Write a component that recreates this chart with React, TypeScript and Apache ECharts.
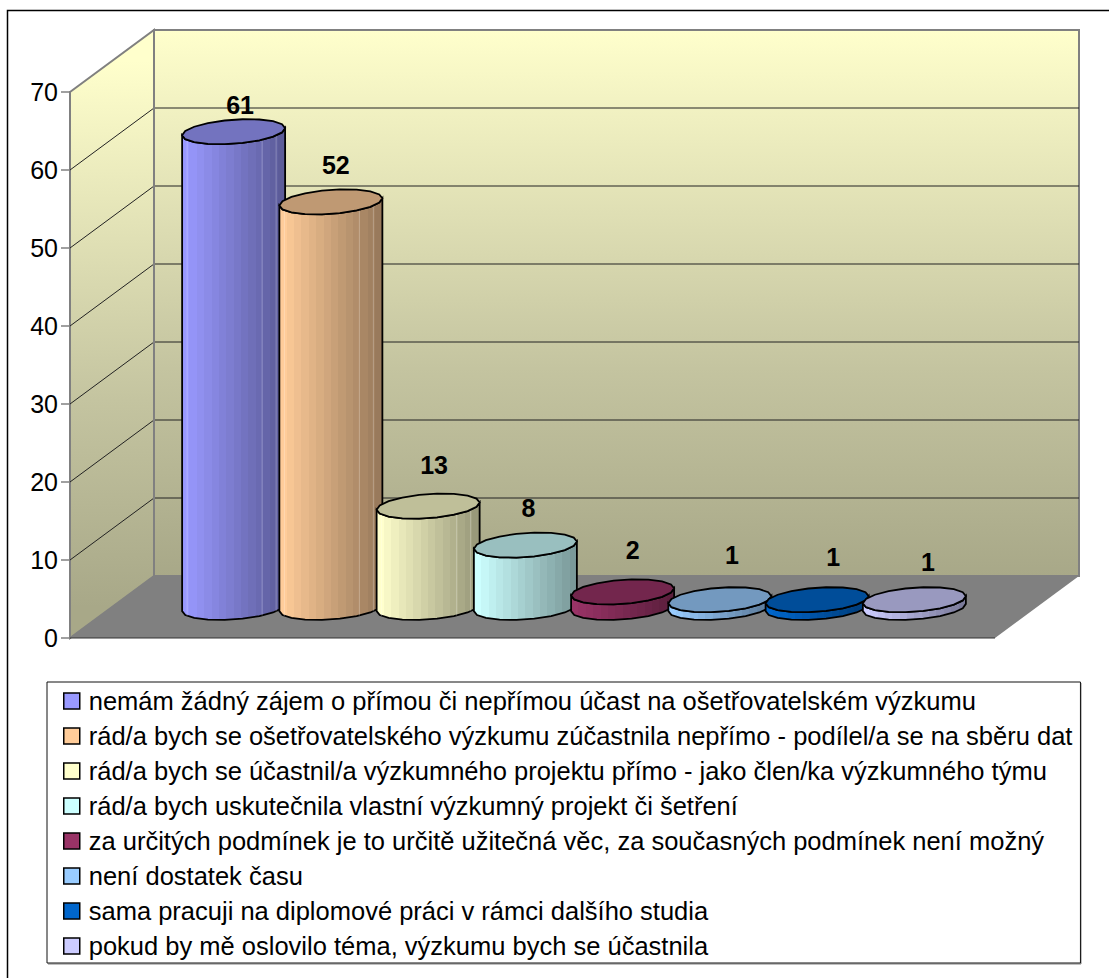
import React, { useEffect, useRef } from "react";
import * as echarts from "echarts";

const categories = [
  "nemám žádný zájem o přímou či nepřímou účast na ošetřovatelském výzkumu",
  "rád/a bych se ošetřovatelského výzkumu zúčastnila nepřímo - podílel/a se na sběru dat",
  "rád/a bych se účastnil/a výzkumného projektu přímo - jako člen/ka výzkumného týmu",
  "rád/a bych uskutečnila vlastní výzkumný projekt či šetření",
  "za určitých podmínek je to určitě užitečná věc, za současných podmínek není možný",
  "není dostatek času",
  "sama pracuji na diplomové práci v rámci dalšího studia",
  "pokud by mě oslovilo téma, výzkumu bych se účastnila",
];
const values = [61, 52, 13, 8, 2, 1, 1, 1];
const colors = ["#9999FF", "#FFCC99", "#FFFFCC", "#CCFFFF", "#993366", "#99CCFF", "#0066CC", "#CCCCFF"];
const gridTicks = [10, 20, 30, 40, 50, 60];

const FONT = '"Liberation Sans", Arial, sans-serif';

// Oblique projection of the plot box, in pixels.
const FRONT_LEFT = 70;
const FRONT_RIGHT = 995;
const DEPTH_X = 84;
const DEPTH_Y = -62;
// Cylinders stand half way into the floor.
const CYL_DEPTH_Y = -30.5;
const TILT = -0.07;
const CAP_B = 12;

// Hand placement of the value labels relative to each cylinder's cap.
const labelShiftX = [6.5, 5, 6, 3, 10, 12, 16, 13.5];
const labelShiftY = [-26.5, -37, -41, -37, -42, -45, -43, -38];

const scale = (hex: string, k: number) => {
  const n = parseInt(hex.slice(1), 16);
  const c = [(n >> 16) & 255, (n >> 8) & 255, n & 255].map((v) => Math.round(v * k));
  return `rgb(${c[0]},${c[1]},${c[2]})`;
};

// Hard-edged strips that give the side of a cylinder its faceted shading.
const bandStops = (hex: string) => {
  const n = 14;
  const stops: { offset: number; color: string }[] = [];
  for (let k = 0; k < n; k++) {
    const shade = scale(hex, 1 - (0.4 * k) / (n - 1));
    stops.push({ offset: k / n, color: shade }, { offset: (k + 1) / n, color: shade });
  }
  return stops;
};

const ellipsePoint = (cx: number, cy: number, a: number, t: number) => [
  cx + a * Math.cos(t),
  cy + a * TILT * Math.cos(t) + CAP_B * Math.sin(t),
];

const renderCylinder = (index: number) => (_params: any, api: any) => {
  const v = api.value(1);
  const top = api.coord([api.value(0), v]);
  const base = api.coord([api.value(0), 0]);
  const cx = top[0];
  const topY = top[1] + CYL_DEPTH_Y;
  const baseY = base[1] + CYL_DEPTH_Y;
  const a = 51.5;
  const segs = 18;

  const frontTop: number[][] = [];
  const frontBase: number[][] = [];
  for (let s = 0; s <= segs / 2; s++) {
    const t = Math.PI - (s / (segs / 2)) * Math.PI;
    frontTop.push(ellipsePoint(cx, topY, a, t));
    frontBase.push(ellipsePoint(cx, baseY, a, t));
  }
  const cap: number[][] = [];
  for (let s = 0; s < segs; s++) cap.push(ellipsePoint(cx, topY, a, (s / segs) * 2 * Math.PI));

  const hex = colors[index];
  const children: any[] = [
    {
      type: "polygon",
      shape: { points: [...frontTop, ...frontBase.slice().reverse()] },
      style: {
        fill: new echarts.graphic.LinearGradient(0, 0, 1, 0, bandStops(hex)),
        stroke: "#000",
        lineWidth: 1.8,
      },
    },
  ];
  // Facet edges catch a little light on the taller cylinders.
  if (v > 10) {
    [-46.5, 28.5, 42.5].forEach((dx) => {
      const c = dx / a;
      const dy = a * TILT * c + CAP_B * Math.sqrt(1 - c * c);
      children.push({
        type: "line",
        shape: { x1: cx + dx, y1: topY + dy, x2: cx + dx, y2: baseY + dy },
        style: { stroke: "rgba(255,255,255,0.25)", lineWidth: 1 },
      });
    });
  }
  children.push({
    type: "polygon",
    shape: { points: cap },
    style: { fill: scale(hex, 0.75), stroke: "#000", lineWidth: 1.8 },
  });
  children.push({
    type: "text",
    style: {
      x: cx + labelShiftX[index],
      y: topY + labelShiftY[index],
      text: String(v),
      fill: "#000",
      fontSize: 25,
      fontWeight: "bold",
      fontFamily: FONT,
      align: "center",
      verticalAlign: "middle",
    },
  });
  return { type: "group", children };
};

// Walls, floor and the gridlines that wrap round them.
const renderRoom = (_params: any, api: any) => {
  const zero = api.coord([0, 0])[1];
  const max = api.coord([0, 70])[1];
  const l = FRONT_LEFT;
  const lb = l + DEPTH_X;
  const rb = FRONT_RIGHT + DEPTH_X;
  const wallFill = (y0: number, y1: number) =>
    new echarts.graphic.LinearGradient(0, y0, 0, y1, [
      { offset: 0, color: "#FFFFCC" },
      { offset: 0.62, color: "#C4C4A0" },
      { offset: 1, color: "#A8A888" },
    ], true);
  const children: any[] = [
    {
      type: "polygon",
      shape: { points: [[lb, max + DEPTH_Y], [rb, max + DEPTH_Y], [rb, zero + DEPTH_Y], [lb, zero + DEPTH_Y]] },
      style: { fill: wallFill(max + DEPTH_Y, zero + DEPTH_Y), stroke: "#808080", lineWidth: 2 },
    },
    {
      type: "polygon",
      shape: { points: [[l, max], [lb, max + DEPTH_Y], [lb, zero + DEPTH_Y], [l, zero]] },
      style: { fill: wallFill(max + DEPTH_Y / 2, zero + DEPTH_Y / 2), stroke: "#808080", lineWidth: 2 },
    },
  ];
  gridTicks.forEach((t) => {
    const y = api.coord([0, t])[1];
    children.push({
      type: "polyline",
      shape: { points: [[l, y], [lb, y + DEPTH_Y], [rb, y + DEPTH_Y]] },
      style: { stroke: "#222", lineWidth: 1, fill: "none" },
    });
  });
  children.push(
    {
      type: "polygon",
      shape: { points: [[l, zero], [lb, zero + DEPTH_Y], [rb, zero + DEPTH_Y], [FRONT_RIGHT, zero]] },
      style: { fill: "#808080" },
    },
    {
      type: "line",
      shape: { x1: l, y1: zero, x2: FRONT_RIGHT, y2: zero },
      style: { stroke: "#333", lineWidth: 1 },
    },
    {
      type: "line",
      shape: { x1: lb, y1: max + DEPTH_Y, x2: lb, y2: zero + DEPTH_Y },
      style: { stroke: "#808080", lineWidth: 2 },
    }
  );
  return { type: "group", children };
};

export default function App() {
  const ref = useRef<HTMLDivElement>(null);
  useEffect(() => {
    if (!ref.current) return;
    const chart = echarts.init(ref.current, undefined, { renderer: "svg" });
    chart.setOption({
      animation: false,
      backgroundColor: "#fff",
      textStyle: { fontFamily: FONT },
      grid: { left: 185, width: 778, top: 92, height: 546, containLabel: false },
      xAxis: { type: "category", data: categories, show: false },
      yAxis: {
        type: "value",
        min: 0,
        max: 70,
        interval: 10,
        offset: 115,
        axisLine: { show: true, lineStyle: { color: "#808080", width: 2 } },
        axisTick: { show: true, length: 9, lineStyle: { color: "#808080", width: 1.5 } },
        axisLabel: { color: "#000", fontSize: 25, fontFamily: FONT, margin: 12, padding: [8, 0, 0, 0] },
        splitLine: { show: false },
      },
      legend: {
        orient: "vertical",
        left: 47,
        top: 682,
        padding: [6, 8, 4, 16],
        itemWidth: 16,
        itemHeight: 16,
        itemGap: 9,
        icon: "rect",
        selectedMode: false,
        backgroundColor: "#fff",
        borderColor: "#111",
        borderWidth: 1,
        borderRadius: 0,
        textStyle: { color: "#000", fontSize: 25.5, fontFamily: FONT, padding: [0, 0, 0, 4] },
        data: categories.map((name, i) => ({
          name,
          itemStyle: { color: colors[i], borderColor: "#000", borderWidth: 1.5 },
        })),
      },
      graphic: [
        {
          type: "rect",
          z: -10,
          silent: true,
          shape: { x: 7.5, y: 10.5, width: 1300, height: 1200 },
          style: { fill: "none", stroke: "#000", lineWidth: 1.5 },
        },
        {
          type: "polyline",
          z: -5,
          silent: true,
          shape: { points: [[1081, 683], [1081, 964], [48, 964]] },
          style: { fill: "none", stroke: "#808080", lineWidth: 1 },
        },
      ],
      series: [
        {
          type: "custom",
          name: "room",
          silent: true,
          clip: false,
          z: 1,
          data: [[0, 0]],
          renderItem: renderRoom,
        },
        ...categories.map((name, i) => ({
          type: "custom",
          name,
          silent: true,
          clip: false,
          z: 2,
          itemStyle: { color: colors[i] },
          encode: { x: 0, y: 1 },
          data: [[i, values[i]]],
          renderItem: renderCylinder(i),
        })),
      ],
    });
    return () => chart.dispose();
  }, []);
  return <div ref={ref} style={{ position: "absolute", left: 0, top: 0, width: 1109, height: 978 }} />;
}
